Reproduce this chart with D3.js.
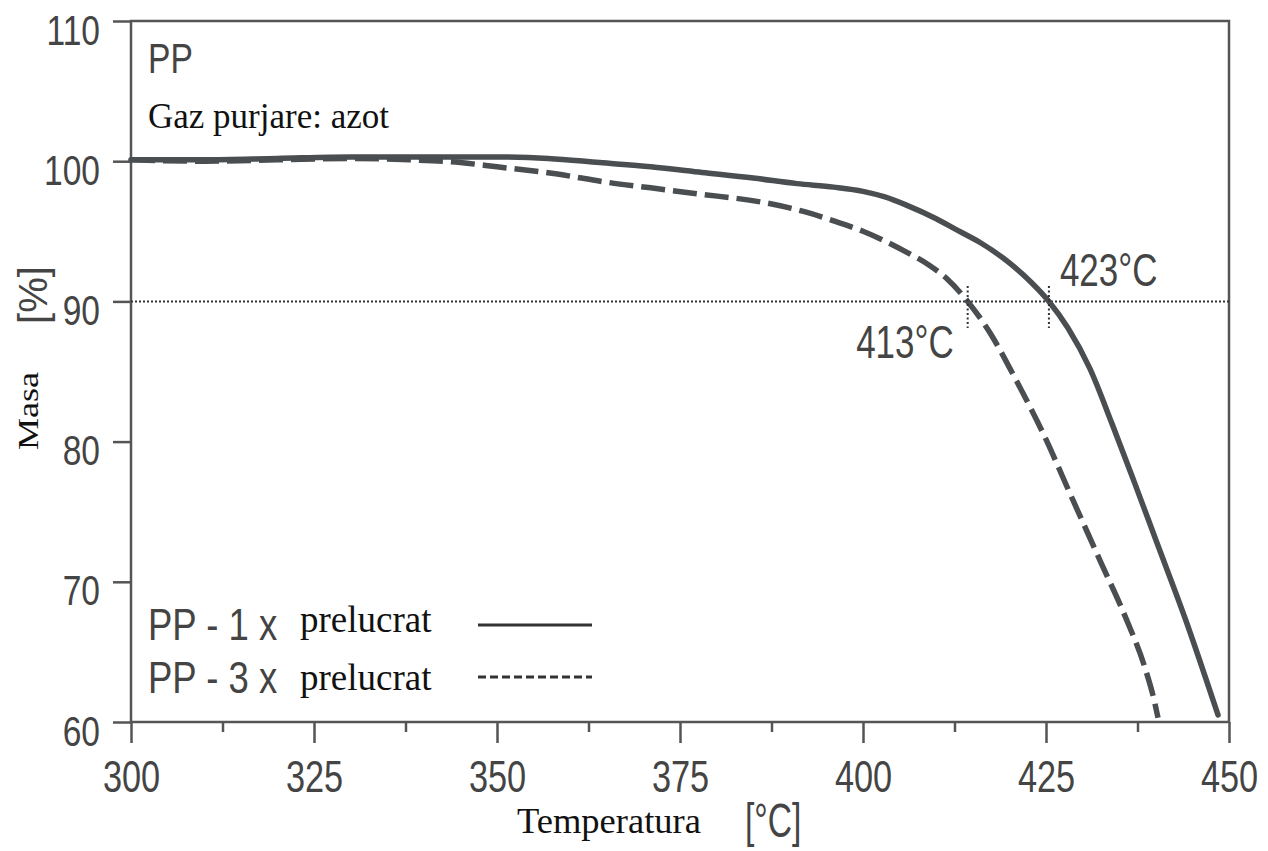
<!DOCTYPE html>
<html>
<head>
<meta charset="utf-8">
<script src="https://cdn.jsdelivr.net/npm/d3@7"></script>
<style>
  body { margin: 0; background: #fff; }
  svg { display: block; }
</style>
</head>
<body>
<div id="vis"></div>
<script>
// frame constants
const FRAME_WIDTH = 1268;
const FRAME_HEIGHT = 851;
const MARGINS = {left: 131, right: 39, top: 21, bottom: 129};
const VIS_WIDTH = FRAME_WIDTH - MARGINS.left - MARGINS.right;
const VIS_HEIGHT = FRAME_HEIGHT - MARGINS.top - MARGINS.bottom;

// data
// PP - 1 x prelucrat (solid)
const temp1 = [300, 310, 320, 330, 340, 350, 357, 364, 371, 378, 385, 391, 396, 400, 403, 406, 410, 413, 416, 420, 423, 425.4, 428, 431, 434, 437, 440, 444, 448.5];
const mass1 = [100.1, 100.1, 100.2, 100.3, 100.3, 100.3, 100.2, 99.9, 99.6, 99.2, 98.8, 98.4, 98.15, 97.85, 97.45, 96.85, 95.9, 95.05, 94.2, 92.75, 91.35, 90.0, 88.1, 85.2, 81.3, 77.2, 73.0, 67.4, 60.5];
// PP - 3 x prelucrat (dashed)
const temp2 = [300, 310, 320, 330, 338, 345, 350, 358, 365, 371, 377, 387, 392, 396, 400, 403, 406, 409, 411.5, 414.3, 417.3, 421, 424.6, 428.7, 432.4, 436, 438.5, 439.8, 440.3];
const mass2 = [100.1, 100.0, 100.1, 100.2, 100.1, 99.9, 99.6, 99.1, 98.5, 98.1, 97.7, 97.0, 96.4, 95.75, 95.0, 94.3, 93.5, 92.6, 91.6, 90.0, 87.8, 84.3, 80.6, 75.8, 71.5, 67.3, 63.9, 61.5, 60.3];

const seriesNames = ["PP - 1 x", "PP - 3 x"];
const xTicks = [300, 325, 350, 375, 400, 425, 450];
const xMinorTicks = [312.5, 337.5, 362.5, 387.5, 412.5, 437.5];
const yTicks = [60, 70, 80, 90, 100, 110];
const threshold = 90;
const crossTemps = [414.3, 425.4];
const crossLabels = ["413°C", "423°C"];

const INK = "#4a4e51";
const GRAY_TEXT = "#444";
const SANS = "'Liberation Sans', Arial, sans-serif";
const SERIF = "'Liberation Serif', 'Times New Roman', serif";

const FRAME = d3.select("#vis").append("svg")
  .attr("width", FRAME_WIDTH)
  .attr("height", FRAME_HEIGHT);

const X_SCALE = d3.scaleLinear().domain([300, 450]).range([0, VIS_WIDTH]);
const Y_SCALE = d3.scaleLinear().domain([60, 110]).range([VIS_HEIGHT, 0]);

const G = FRAME.append("g")
  .attr("transform", "translate(" + MARGINS.left + "," + MARGINS.top + ")");

// narrow gray sans text (the scan uses a condensed face)
function narrow(parent, x, y, str, size, anchor, sx) {
  return parent.append("text")
    .attr("transform", "translate(" + x + "," + y + ") scale(" + sx + ",1)")
    .attr("text-anchor", anchor)
    .attr("font-family", SANS)
    .attr("font-size", size)
    .attr("fill", GRAY_TEXT)
    .text(str);
}

// x axis, major ticks
const xAxis = G.append("g")
  .attr("transform", "translate(0," + VIS_HEIGHT + ")")
  .call(d3.axisBottom(X_SCALE).tickValues(xTicks).tickSize(21).tickPadding(0));
xAxis.selectAll("text")
  .attr("y", 70).attr("dy", 0)
  .attr("transform", "scale(0.78,1)")
  .attr("font-family", SANS).attr("font-size", 44).attr("fill", GRAY_TEXT);

// x axis, minor ticks
G.append("g")
  .attr("transform", "translate(0," + VIS_HEIGHT + ")")
  .call(d3.axisBottom(X_SCALE).tickValues(xMinorTicks).tickSize(10).tickFormat(""));

// y axis
const yAxis = G.append("g")
  .call(d3.axisLeft(Y_SCALE).tickValues(yTicks).tickSize(18).tickPadding(0));
yAxis.selectAll("text")
  .attr("x", -31 / 0.78).attr("y", 23).attr("dy", 0)
  .attr("transform", "scale(0.78,1)")
  .attr("font-family", SANS).attr("font-size", 43).attr("fill", GRAY_TEXT);

G.selectAll(".domain").remove();
G.selectAll(".tick line").attr("stroke", "#555").attr("stroke-width", 2.5);

// plot frame
G.append("rect")
  .attr("width", VIS_WIDTH).attr("height", VIS_HEIGHT)
  .attr("fill", "none").attr("stroke", "#555").attr("stroke-width", 2.5);

// 90 % threshold line
G.append("line")
  .attr("x1", 0).attr("x2", VIS_WIDTH)
  .attr("y1", Y_SCALE(threshold)).attr("y2", Y_SCALE(threshold))
  .attr("stroke", "#333").attr("stroke-width", 2).attr("stroke-dasharray", "2,2");

// curves
const line = d3.line()
  .x(d => X_SCALE(d[0]))
  .y(d => Y_SCALE(d[1]))
  .curve(d3.curveMonotoneX);

G.append("path")
  .datum(temp1.map((t, i) => [t, mass1[i]]))
  .attr("d", line)
  .attr("fill", "none").attr("stroke", INK).attr("stroke-width", 5.5)
  .attr("stroke-linecap", "round");

G.append("path")
  .datum(temp2.map((t, i) => [t, mass2[i]]))
  .attr("d", line)
  .attr("fill", "none").attr("stroke", INK).attr("stroke-width", 5.5)
  .attr("stroke-dasharray", "24,8");

// crossing markers (short dotted verticals)
G.selectAll(".cross")
  .data(crossTemps)
  .enter()
  .append("line")
    .attr("x1", d => X_SCALE(d)).attr("x2", d => X_SCALE(d))
    .attr("y1", Y_SCALE(91.1)).attr("y2", Y_SCALE(88.1))
    .attr("stroke", "#333").attr("stroke-width", 2).attr("stroke-dasharray", "2,2.5");

narrow(G, X_SCALE(crossTemps[0]) - 14, Y_SCALE(threshold) + 57, crossLabels[0], 46, "end", 0.76);
narrow(G, X_SCALE(crossTemps[1]) + 11, Y_SCALE(threshold) - 15, crossLabels[1], 46, "start", 0.76);

// top-left labels
narrow(FRAME, 148, 73, "PP", 42, "start", 0.8);
FRAME.append("text")
  .attr("x", 148).attr("y", 128)
  .attr("font-family", SERIF).attr("font-size", 35).attr("fill", "#111")
  .text("Gaz purjare: azot");

// legend
const legendY = [640, 693];
const sampleY = [625, 677];
seriesNames.forEach((name, i) => {
  narrow(FRAME, 148, legendY[i], name, 44, "start", 0.83);
  FRAME.append("text")
    .attr("x", 300).attr("y", legendY[i] - 8 + i * 5)
    .attr("font-family", SERIF).attr("font-size", 37).attr("fill", "#111")
    .text("prelucrat");
  FRAME.append("line")
    .attr("x1", 478).attr("x2", 592)
    .attr("y1", sampleY[i]).attr("y2", sampleY[i])
    .attr("stroke", "#333").attr("stroke-width", 3)
    .attr("stroke-dasharray", i === 0 ? null : "8,4");
});

// axis titles
FRAME.append("text")
  .attr("x", 517).attr("y", 833)
  .attr("font-family", SERIF).attr("font-size", 36.5).attr("fill", "#111")
  .text("Temperatura");
narrow(FRAME, 745, 837, "[°C]", 48, "start", 0.7);

FRAME.append("text")
  .attr("transform", "translate(38,411) rotate(-90) scale(1.2,1)")
  .attr("text-anchor", "middle")
  .attr("font-family", SERIF).attr("font-size", 30).attr("fill", "#111")
  .text("Masa");
FRAME.append("text")
  .attr("transform", "translate(47,295) rotate(-90)")
  .attr("text-anchor", "middle")
  .attr("font-family", SANS).attr("font-size", 40).attr("fill", GRAY_TEXT)
  .text("[%]");
</script>
</body>
</html>
